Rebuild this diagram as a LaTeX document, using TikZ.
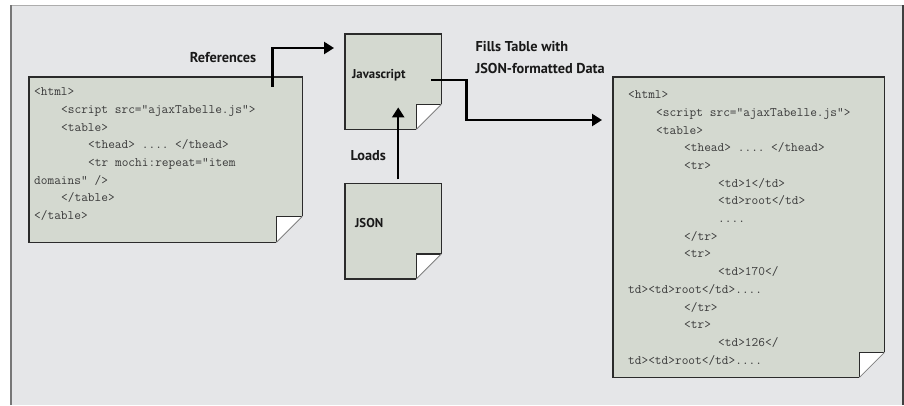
\documentclass[tikz,border=0pt]{standalone}
\usepackage{fontspec}
\setsansfont{PT Sans}
\usepackage{tikz}
\usetikzlibrary{positioning,arrows.meta,calc,backgrounds}

\definecolor{pagebg}{HTML}{E5E6E8}
\definecolor{docfill}{HTML}{D4D9D0}
\definecolor{docedge}{HTML}{2B2B2B}
\definecolor{codegray}{HTML}{3A3A3A}
\definecolor{framegray}{HTML}{777777}

\newcommand{\pagefold}[2]{%
  \fill[docfill] (#1.south west) -- (#1.north west) -- (#1.north east)
    -- ([yshift=#2]#1.south east) -- ([xshift=-#2]#1.south east) -- cycle;
  \fill[white] ([xshift=-#2]#1.south east) -- ([xshift=-#2,yshift=#2]#1.south east)
    -- ([yshift=#2]#1.south east) -- cycle;
  \draw[docedge,line width=1.4pt] ([xshift=-#2]#1.south east) -- (#1.south west)
    -- (#1.north west) -- (#1.north east) -- ([yshift=#2]#1.south east);
  \draw[docedge,line width=1.4pt] ([xshift=-#2]#1.south east)
    -- ([xshift=-#2,yshift=#2]#1.south east) -- ([yshift=#2]#1.south east);
  \draw[gray,line width=0.8pt] ([yshift=#2]#1.south east) -- ([xshift=-#2]#1.south east);
}

\begin{document}
\begin{tikzpicture}[
    x=1pt,y=1pt,
    page/.style={rectangle,anchor=north west,align=left,inner ysep=5pt},
    code/.style={page,font=\ttfamily\fontsize{13}{17.7}\selectfont,text=codegray,
                 execute at begin node={\spaceskip=6.8pt\relax}},
    title/.style={page,font=\sffamily\bfseries\fontsize{12.8}{20}\selectfont,
                  text=black!90,text height=39pt,text depth=46pt},
    lbl/.style={font=\sffamily\bfseries\fontsize{14.3}{22}\selectfont,
                text=black!90,align=left},
    flow/.style={line width=2.4pt,-{Triangle[length=10pt,width=12pt]}}
]
  \useasboundingbox (0,0) rectangle (904,405);

  \node[code,inner xsep=5pt,text width=263pt,text height=13.5pt,text depth=141.5pt]
    (html) at (29,328) {<html>\\
\hspace*{27pt}<script src="ajaxTabelle.js">\\
\hspace*{27pt}<table>\\
\hspace*{54pt}<thead> .... </thead>\\
\hspace*{54pt}<tr mochi:repeat="item\\
domains" />\\
\hspace*{27pt}</table>\\
</table>};
  \node[title,inner xsep=7pt,text width=82pt] (js) at (345,371) {Javascript};
  \node[title,inner xsep=10pt,text width=76pt,below=54pt of js.south west,anchor=north west]
    (json) {JSON};
  \node[code,inner xsep=15pt,text width=241pt,text height=16.5pt,text depth=273.5pt]
    (result) at (613,328) {<html>\\
\hspace*{28pt}<script src="ajaxTabelle.js">\\
\hspace*{28pt}<table>\\
\hspace*{56pt}<thead> .... </thead>\\
\hspace*{56pt}<tr>\\
\hspace*{90pt}<td>1</td>\\
\hspace*{90pt}<td>root</td>\\
\hspace*{90pt}....\\
\hspace*{56pt}</tr>\\
\hspace*{56pt}<tr>\\
\hspace*{90pt}<td>170</\\
td><td>root</td>....\\
\hspace*{56pt}</tr>\\
\hspace*{56pt}<tr>\\
\hspace*{90pt}<td>126</\\
td><td>root</td>....};

  \draw[flow] ([xshift=-30pt,yshift=-10pt]html.north east)
    |- node[lbl,pos=0.38,left=11.7pt] {References} ([xshift=-11pt,yshift=-14pt]js.north west);
  \draw[flow] ([xshift=-10pt,yshift=1.5pt]js.east) -- ++(35,0)
    node[lbl,anchor=south west,xshift=4.7pt,yshift=2pt] {Fills Table with\\JSON-formatted Data}
    |- ([xshift=-11pt,yshift=-43pt]result.north west);
  \draw[flow] ([xshift=5pt,yshift=4pt]json.north)
    -- node[lbl,pos=0.33,left=7.7pt] {Loads} ([xshift=5pt,yshift=22pt]js.south);

  \begin{scope}[on background layer]
    \fill[white] (0,0) rectangle (904,405);
    \fill[pagebg] (11,0) rectangle (903,399);
    \draw[framegray!60,line width=1pt] (11,399) -- (903,399);
    \draw[framegray,line width=1.8pt] (11,0) -- (11,399.5);
    \draw[docedge!90,line width=2pt] (903,0) -- (903,399.5);
    \pagefold{html}{26pt}
    \pagefold{js}{25pt}
    \pagefold{json}{25pt}
    \pagefold{result}{25pt}
  \end{scope}
\end{tikzpicture}
\end{document}
